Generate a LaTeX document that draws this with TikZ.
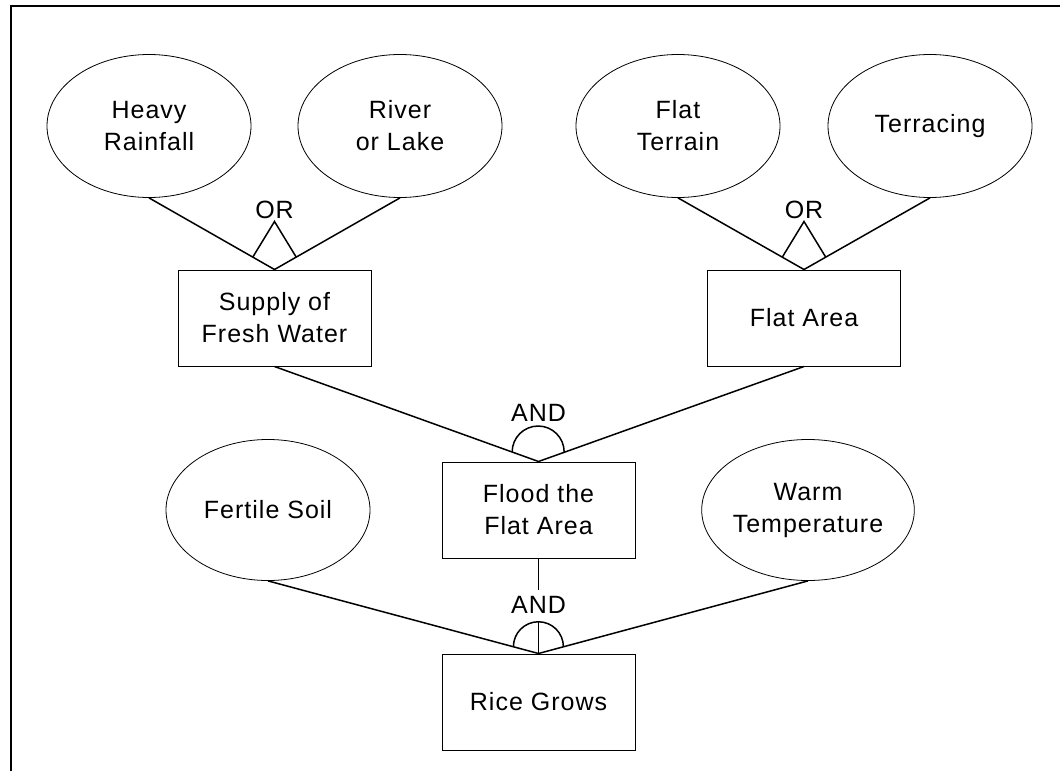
\documentclass[tikz,border=0pt]{standalone}
\usepackage{fontspec}
\setmainfont{Liberation Sans}[LetterSpace=4]
\usetikzlibrary{shapes.geometric,calc}
\begin{document}
\begin{tikzpicture}[x=1pt,y=1pt,
  every node/.style={font=\fontsize{25}{32}\selectfont, align=center, inner sep=0pt},
  goal/.style={ellipse, draw, line width=0.8pt, minimum width=204pt, minimum height=143pt},
  task/.style={rectangle, draw, line width=1pt, minimum width=193pt, minimum height=96pt},
  link/.style={line width=1.5pt},
  gate/.style={line width=1.5pt},
  frame/.style={line width=2pt}]
\useasboundingbox (0,0) rectangle (1060,-771);

% outer frame (left and top edges)
\draw[frame] (11,-771) -- (11,-6) -- (1060,-6);

% goals and tasks
\node[goal] (hr) at (149,-126) {Heavy\\Rainfall};
\node[goal] (rl) at (400,-126) {River\\or Lake};
\node[goal] (ft) at (678,-126) {Flat\\Terrain};
\node[goal] (tr) at (930,-126) {Terracing};
\node[task] (sw) at (274.5,-318) {Supply of\\Fresh Water};
\node[task] (fa) at (804,-318) {Flat Area};
\node[task] (fl) at (538.5,-510) {Flood the\\Flat Area};
\node[goal, minimum height=141pt] (fs) at (268,-510) {Fertile Soil};
\node[goal, minimum height=141pt] (wt) at (808,-510) {Warm\\Temperature};
\node[task] (rg) at (538.5,-702) {Rice Grows};

% refinement links
\draw[link] (hr.south) -- (sw.north) -- (rl.south);
\draw[link] (ft.south) -- (fa.north) -- (tr.south);
\draw[link] (sw.south) -- (fl.north) -- (fa.south);
\draw[link] (fs.south) -- (rg.north) -- (wt.south);
\coordinate (stub) at (538.5,-590);
\draw[link] (fl.south) -- (stub);

% OR gates
\draw[gate] ($(sw.north)!25pt!(hr.south)$) -- ($(sw.north)+(0,48)$) -- ($(sw.north)!25pt!(rl.south)$);
\node (orA) at ($(sw.north)+(0,60)$) {OR};
\draw[gate] ($(fa.north)!25pt!(ft.south)$) -- ($(fa.north)+(0,48)$) -- ($(fa.north)!25pt!(tr.south)$);
\node (orB) at ($(fa.north)+(0,60)$) {OR};

% AND gates
\draw[gate] ($(fl.north)!28pt!(sw.south)$) arc[start angle=180, end angle=0, radius=26pt];
\node (andA) at ($(fl.north)+(0,49)$) {AND};
\draw[gate] ($(rg.north)!26pt!(fs.south)$) arc[start angle=180, end angle=0, radius=25pt];
\draw[gate] ($(rg.north)+(0,32)$) -- (rg.north);
\node (andB) at ($(rg.north)+(0,49)$) {AND};
\end{tikzpicture}
\end{document}
